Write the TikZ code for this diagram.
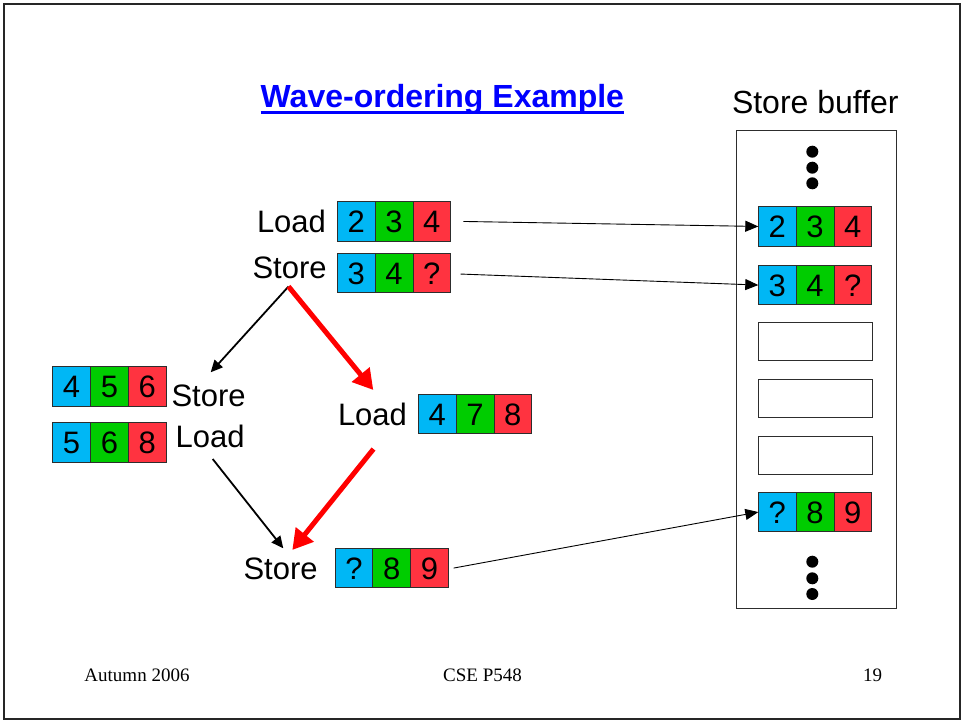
\documentclass[tikz,border=0pt]{standalone}
\usepackage{fontspec}
\setmainfont{Liberation Sans}
\newfontfamily\footfont{Liberation Serif}
\usetikzlibrary{arrows.meta}
\definecolor{cblue}{RGB}{0,183,245}
\definecolor{cgreen}{RGB}{0,204,0}
\definecolor{cred}{RGB}{255,51,64}
\definecolor{titleblue}{RGB}{0,0,255}
\definecolor{edgegray}{RGB}{45,45,45}
\newcommand\tripcells[6]{%
  \node[cell,fill=cblue,anchor=north west] (#1-1) at (#2,#3) {#4};
  \node[cell,fill=cgreen,anchor=west] (#1-2) at (#1-1.east) {#5};
  \node[cell,fill=cred,anchor=west] (#1-3) at (#1-2.east) {#6};}
\begin{document}
\begin{tikzpicture}[x=1pt,y=-1pt,
  cell/.style={draw=edgegray,line width=0.8pt,minimum width=37.8pt,minimum height=39.5pt,
    inner sep=0pt,outer sep=0pt,font=\fontsize{31}{31}\selectfont,text height=22pt,text depth=0pt},
  emptycell/.style={draw=edgegray,line width=0.8pt,minimum width=114pt,minimum height=38pt,inner sep=0pt,outer sep=0pt,anchor=north west},
  lbl/.style={inner sep=0pt,outer sep=0pt,anchor=base west,font=\fontsize{31}{31}\selectfont},
  foot/.style={inner sep=0pt,outer sep=0pt,anchor=base,font=\footfont\fontsize{19}{19}\selectfont},
  thinarrow/.style={-{Triangle[length=13pt,width=11pt]},line width=0.9pt,draw=black},
  blackarrow/.style={-{Triangle[length=12pt,width=11pt]},line width=1.8pt,draw=black},
  redarrow/.style={-{Triangle[length=20pt,width=22pt]},line width=5pt,draw=red,fill=red},
  dot/.style={circle,fill=black,inner sep=0pt,minimum size=12pt}]
\useasboundingbox (0,0) rectangle (961,721);
\draw[line width=2pt,draw=black!85] (4,4) rectangle (959.5,719);

% title
\node[lbl,font=\bfseries\fontsize{32}{32}\selectfont,text=titleblue] (title) at (260.7,107.3) {Wave-ordering Example};
\draw[titleblue,line width=2.6pt] (title.base west)++(0,5.4) coordinate (ul1) -- (ul1-|title.base east);

% store buffer
\node[lbl,font=\fontsize{32}{32}\selectfont] (sbl) at (732,113.5) {Store buffer};
\node[draw=edgegray,line width=0.9pt,minimum width=160pt,minimum height=478pt,anchor=north west,inner sep=0pt] (buf) at (736,130) {};
\node[dot] (d1) at (812.3,151.7) {};
\node[dot] (d2) at (812.3,167.7) {};
\node[dot] (d3) at (812.3,183.3) {};
\tripcells{B1}{758.3}{206.7}{2}{3}{4}
\tripcells{B2}{758.3}{265.3}{3}{4}{?}
\node[emptycell] (E1) at (758.3,322) {};
\node[emptycell] (E2) at (758.3,379) {};
\node[emptycell] (E3) at (758.3,436) {};
\tripcells{B6}{758.3}{492.3}{?}{8}{9}
\node[dot] (d4) at (812.3,561.7) {};
\node[dot] (d5) at (812.3,578.3) {};
\node[dot] (d6) at (812.3,594) {};

% top instructions
\node[lbl] (tload) at (257,232.7) {Load};
\tripcells{L1}{337.3}{201.7}{2}{3}{4}
\node[lbl] (tstore) at (252.5,278.3) {Store};
\tripcells{S1}{337.3}{253.3}{3}{4}{?}

% left path
\tripcells{L2}{52.7}{366.7}{4}{5}{6}
\node[lbl] (lstore) at (171.5,406.5) {Store};
\tripcells{L3}{52.7}{422.5}{5}{6}{8}
\node[lbl] (lload) at (175.7,447.7) {Load};

% middle path
\node[lbl] (mload) at (338,425.7) {Load};
\tripcells{M1}{418.3}{394.3}{4}{7}{8}

% bottom store
\node[lbl] (bstore) at (243.5,579.3) {Store};
\tripcells{S2}{335}{548.3}{?}{8}{9}

% connectors
\coordinate (fork) at (288.5,286.5);
\coordinate (lin) at (210.7,372.3);
\coordinate (rin) at (373.3,390);
\coordinate (lout) at (212.7,459);
\coordinate (rout) at (373.5,449);
\coordinate (jl) at (283.3,548.3);
\coordinate (jr) at (292.3,550);
\draw[blackarrow] (fork) -- (lin);
\draw[redarrow] (fork) -- (rin);
\draw[blackarrow] (lout) -- (jl);
\draw[redarrow] (rout) -- (jr);

\draw[thinarrow] ([xshift=12.6pt]L1-3.east) -- (B1-1.west);
\draw[thinarrow] ([xshift=10pt,yshift=-1pt]S1-3.east) -- (B2-1.west);
\draw[thinarrow] ([xshift=5.3pt]S2-3.east) -- ([yshift=0pt]B6-1.west);

% footer
\node[foot] (f1) at (137,681) {Autumn 2006};
\node[foot] (f2) at (482.5,681) {CSE P548};
\node[foot] (f3) at (872.5,681) {19};
\end{tikzpicture}
\end{document}
